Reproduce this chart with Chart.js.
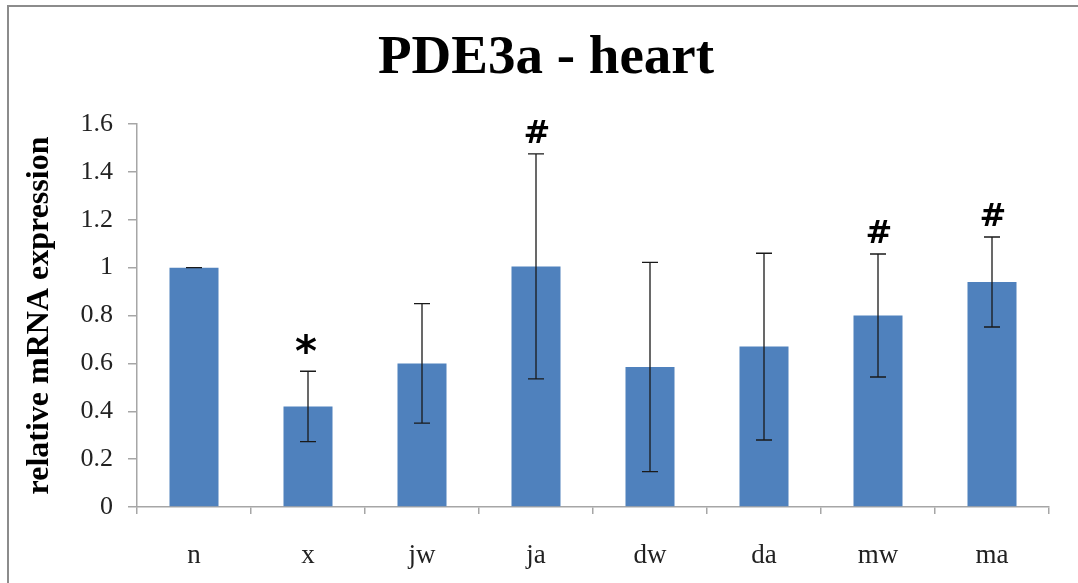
<!DOCTYPE html>
<html>
<head>
<meta charset="utf-8">
<script src="https://cdn.jsdelivr.net/npm/chart.js@4.4.1/dist/chart.umd.min.js"></script>
<style>
  html, body { margin: 0; padding: 0; background: #fff; }
  #wrap { width: 1078px; height: 583px; }
</style>
</head>
<body>
<div id="wrap"><canvas id="pdeChart" width="1078" height="583"></canvas></div>
<script>
const categories = ['n', 'x', 'jw', 'ja', 'dw', 'da', 'mw', 'ma']
const expression = [1.0, 0.42, 0.60, 1.005, 0.585, 0.67, 0.80, 0.94]
const errors = [0, 0.147, 0.25, 0.47, 0.437, 0.39, 0.257, 0.188]
const marks = ['', '*', '', '#', '', '', '#', '#']
const yTickLabels = ['0', '0.2', '0.4', '0.6', '0.8', '1', '1.2', '1.4', '1.6']
const chartTitle = 'PDE3a - heart'
const yTitle = 'relative mRNA expression'

const axisGray = '#a6a6a6'
const serif = "'Liberation Serif', 'Times New Roman', serif"
const markFont = "'DejaVu Sans', sans-serif"

// outer frame + main title
const framePlugin = {
  id: 'frame',
  beforeDraw(chart) {
    const ctx = chart.ctx
    ctx.save()
    ctx.strokeStyle = '#8c8c8c'
    ctx.lineWidth = 2
    ctx.beginPath()
    ctx.moveTo(8, 583)
    ctx.lineTo(8, 6)
    ctx.lineTo(1078, 6)
    ctx.stroke()
    ctx.fillStyle = '#000'
    ctx.font = `bold 55px ${serif}`
    ctx.textAlign = 'center'
    ctx.textBaseline = 'alphabetic'
    ctx.fillText(chartTitle, 546, 73)
    ctx.restore()
  }
}

// error bars and significance marks
const errorBarPlugin = {
  id: 'errorBars',
  afterDatasetsDraw(chart) {
    const ctx = chart.ctx
    const y = chart.scales.y
    const meta = chart.getDatasetMeta(0)
    ctx.save()
    ctx.strokeStyle = '#1a1a1a'
    ctx.lineWidth = 1.3
    meta.data.forEach((bar, i) => {
      const x = bar.x
      const top = y.getPixelForValue(expression[i] + errors[i])
      const bottom = y.getPixelForValue(expression[i] - errors[i])
      ctx.beginPath()
      ctx.moveTo(x, top)
      ctx.lineTo(x, bottom)
      ctx.moveTo(x - 8, top)
      ctx.lineTo(x + 8, top)
      ctx.moveTo(x - 8, bottom)
      ctx.lineTo(x + 8, bottom)
      ctx.stroke()
      if (marks[i]) {
        ctx.fillStyle = '#000'
        ctx.textAlign = 'center'
        ctx.textBaseline = 'alphabetic'
        if (marks[i] === '*') {
          ctx.font = `bold 42px ${markFont}`
          ctx.fillText(marks[i], x - 2, top - 5)
        } else {
          ctx.font = `bold 32px ${markFont}`
          ctx.fillText(marks[i], x + 1, top - 11)
        }
      }
    })
    ctx.restore()
  }
}

new Chart(document.getElementById('pdeChart'), {
  type: 'bar',
  data: {
    labels: categories,
    datasets: [{
      data: expression,
      backgroundColor: '#4f81bd',
      borderWidth: 0,
      barPercentage: 0.43,
      categoryPercentage: 1.0
    }]
  },
  options: {
    responsive: false,
    animation: false,
    layout: {
      padding: { top: 124, right: 29, left: 0, bottom: 0 }
    },
    plugins: {
      legend: { display: false },
      tooltip: { enabled: false }
    },
    scales: {
      y: {
        min: 0,
        max: 1.6,
        afterFit: (scale) => { scale.width = 137 },
        ticks: {
          stepSize: 0.2,
          padding: 15,
          color: '#222',
          font: { family: serif, size: 26 },
          callback: (v, i) => yTickLabels[i]
        },
        grid: {
          drawOnChartArea: false,
          drawTicks: true,
          tickLength: 9,
          color: axisGray,
          lineWidth: 1.5
        },
        border: { display: true, color: axisGray, width: 1.5 },
        title: {
          display: true,
          text: yTitle,
          color: '#000',
          font: { family: serif, size: 32, weight: 'bold' },
          padding: { top: 21, bottom: 0 }
        }
      },
      x: {
        afterFit: (scale) => { scale.height = 76 },
        ticks: {
          padding: 26,
          color: '#222',
          font: { family: serif, size: 27 }
        },
        grid: {
          offset: true,
          drawOnChartArea: false,
          drawTicks: true,
          tickLength: 7,
          color: axisGray,
          lineWidth: 1.5
        },
        border: { display: true, color: axisGray, width: 1.5 }
      }
    }
  },
  plugins: [framePlugin, errorBarPlugin]
})
</script>
</body>
</html>
